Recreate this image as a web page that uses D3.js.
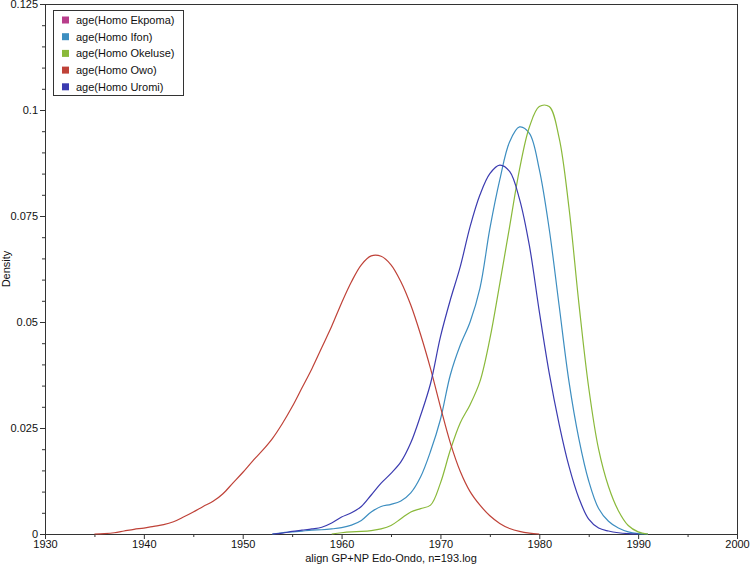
<html>
<head>
  <script src="https://d3js.org/d3.v7.min.js"></script>
  <style>
    body { margin: 0; background: #fff; }
    text { font-family: "Liberation Sans", Arial, sans-serif; font-size: 11px; fill: #111; }
    .line { fill: none; stroke-width: 1.2px; }
    .axis path, .axis line { stroke: #333; }
    .frame { fill: none; stroke: #333; stroke-width: 1px; }
  </style>
</head>
<body>
  <svg width="750" height="567"></svg>
  <script>
    // density curves, one value per year
    var names = ["age(Homo Ekpoma)", "age(Homo Ifon)", "age(Homo Okeluse)", "age(Homo Owo)", "age(Homo Uromi)"];
    var colors = ["#b83d8b", "#3d8ec0", "#8ab93a", "#bf4238", "#3b3bb0"];

    var ekpomaYears = [];
    var ekpomaVals = [];

    var ifonYears = d3.range(1953, 1992);
    var ifonVals = [0, 0.0003, 0.0005, 0.0007, 0.0009, 0.0010, 0.0012, 0.0015, 0.0021, 0.0032,
      0.0052, 0.0065, 0.0070, 0.0078, 0.0097, 0.0135, 0.0195, 0.0270, 0.0375, 0.0445,
      0.0500, 0.0580, 0.0720, 0.0835, 0.0925, 0.0960, 0.0945, 0.0860, 0.0720, 0.0540,
      0.0360, 0.0225, 0.0125, 0.0060, 0.0030, 0.0014, 0.0005, 0.0001, 0];

    var okeluseYears = d3.range(1959, 1992);
    var okeluseVals = [0, 0.0003, 0.0005, 0.0006, 0.0008, 0.0012, 0.0020, 0.0036, 0.0052, 0.0060,
      0.0068, 0.0120, 0.0198, 0.0262, 0.0305, 0.0360, 0.0460, 0.0590, 0.0725, 0.0860,
      0.0960, 0.1008, 0.1008, 0.0935, 0.0770, 0.0545, 0.0345, 0.0200, 0.0112, 0.0055,
      0.0020, 0.0005, 0];

    var owoYears = d3.range(1935, 1981);
    var owoVals = [0, 0.0001, 0.0003, 0.0007, 0.0011, 0.0014, 0.0018, 0.0022, 0.0029, 0.0040,
      0.0052, 0.0065, 0.0077, 0.0095, 0.0120, 0.0145, 0.0172, 0.0197, 0.0225, 0.0260,
      0.0300, 0.0345, 0.0390, 0.0440, 0.0490, 0.0545, 0.0595, 0.0635, 0.0656, 0.0655,
      0.0635, 0.0595, 0.0540, 0.0470, 0.0390, 0.0300, 0.0215, 0.0148, 0.0100, 0.0068,
      0.0043, 0.0025, 0.0013, 0.0006, 0.0002, 0];

    var uromiYears = d3.range(1953, 1991);
    var uromiVals = [0, 0.0002, 0.0006, 0.0009, 0.0012, 0.0016, 0.0026, 0.0040, 0.0050, 0.0065,
      0.0092, 0.0120, 0.0143, 0.0170, 0.0215, 0.0280, 0.0355, 0.0465, 0.0552, 0.0630,
      0.0725, 0.0800, 0.0850, 0.0870, 0.0855, 0.0790, 0.0680, 0.0525, 0.0380, 0.0260,
      0.0160, 0.0085, 0.0035, 0.0014, 0.0007, 0.0003, 0.0001, 0];

    var xTicks = [1930, 1940, 1950, 1960, 1970, 1980, 1990, 2000];
    var yTicks = [0, 0.025, 0.05, 0.075, 0.1, 0.125];

    var seriesYears = [ekpomaYears, ifonYears, okeluseYears, owoYears, uromiYears];
    var seriesVals = [ekpomaVals, ifonVals, okeluseVals, owoVals, uromiVals];

    var svg = d3.select("svg"),
        margin = {top: 4, right: 13, bottom: 33, left: 45},
        width = +svg.attr("width") - margin.left - margin.right,
        height = +svg.attr("height") - margin.top - margin.bottom,
        g = svg.append("g").attr("transform", "translate(" + margin.left + "," + margin.top + ")");

    var x = d3.scaleLinear().domain([1930, 2000]).range([0, width]);
    var y = d3.scaleLinear().domain([0, 0.125]).range([height, 0]);

    g.append("rect").attr("class", "frame")
        .attr("x", 0.5).attr("y", 0.5).attr("width", width).attr("height", height);

    // minor ticks
    g.append("g").attr("class", "axis")
        .attr("transform", "translate(0," + height + ")")
        .call(d3.axisBottom(x).tickValues(d3.range(1935, 2000, 10)).tickSize(3).tickFormat(""))
        .select(".domain").remove();
    g.append("g").attr("class", "axis")
        .call(d3.axisLeft(y).tickValues(d3.range(0, 0.1251, 0.005)).tickSize(3).tickFormat(""))
        .select(".domain").remove();

    g.append("g").attr("class", "axis")
        .attr("transform", "translate(0," + height + ")")
        .call(d3.axisBottom(x).tickValues(xTicks).tickSize(5).tickPadding(1).tickFormat(d3.format("d")));

    g.append("g").attr("class", "axis")
        .call(d3.axisLeft(y).tickValues(yTicks).tickSize(5).tickPadding(2)
          .tickFormat(function(d) { return d === 0 ? "0" : String(+d.toFixed(3)); }));

    g.selectAll(".axis text").style("font-size", "11px").style("fill", "#111")
        .style("font-family", "'Liberation Sans', Arial, sans-serif");

    var line = d3.line()
        .x(function(d) { return x(d[0]); })
        .y(function(d) { return y(d[1]); })
        .curve(d3.curveCatmullRom.alpha(0.5));

    seriesYears.forEach(function(yrs, i) {
      if (!yrs.length) return;
      var pts = yrs.map(function(yr, j) { return [yr, seriesVals[i][j]]; });
      g.append("path")
          .datum(pts)
          .attr("class", "line")
          .style("stroke", colors[i])
          .attr("d", line);
    });

    // axis titles
    svg.append("text")
        .attr("x", margin.left + width / 2)
        .attr("y", 562)
        .attr("text-anchor", "middle")
        .text("align GP+NP Edo-Ondo, n=193.log");

    svg.append("text")
        .attr("transform", "translate(10," + (margin.top + height / 2) + ") rotate(-90)")
        .attr("text-anchor", "middle")
        .text("Density");

    // legend
    var legend = svg.append("g").attr("transform", "translate(53,10)");
    legend.append("rect")
        .attr("x", 0.5).attr("y", 0.5).attr("width", 130).attr("height", 85)
        .style("fill", "#fff").style("stroke", "#333");
    names.forEach(function(n, i) {
      var row = legend.append("g").attr("transform", "translate(0," + (10 + i * 16.7) + ")");
      row.append("rect").attr("x", 9).attr("y", -3.5).attr("width", 7).attr("height", 7).style("fill", colors[i]);
      row.append("text").attr("x", 23).attr("y", 4).text(n);
    });
  </script>
</body>
</html>
